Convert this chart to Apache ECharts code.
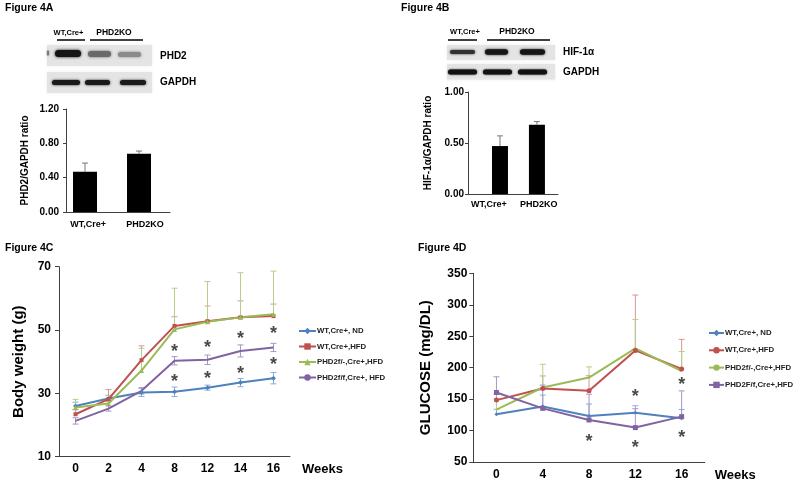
<!DOCTYPE html>
<html><head><meta charset="utf-8">
<script src="https://cdn.jsdelivr.net/npm/echarts@6/dist/echarts.min.js"></script>
<style>html,body{margin:0;padding:0;background:#fff}#c{width:795px;height:482px}</style>
</head><body><div id="c"></div>
<script>
// ---------- data ----------
const barCats = ['WT,Cre+', 'PHD2KO'];
const phd2Ratio = [0.47, 0.68];
const phd2Err = [0.10, 0.03];
const hifRatio = [0.47, 0.68];
const hifErr = [0.10, 0.03];

const weeksC = ['0', '2', '4', '8', '12', '14', '16'];
const namesC = ['WT,Cre+, ND', 'WT,Cre+,HFD', 'PHD2f/-,Cre+,HFD', 'PHD2f/f,Cre+, HFD'];
const bwND   = [26.0, 28.4, 30.3, 30.5, 31.8, 33.4, 34.8];
const bwHFD  = [23.4, 28.2, 40.5, 51.3, 52.8, 54.0, 54.4];
const bwFm   = [25.5, 26.8, 37.2, 50.2, 52.6, 54.0, 55.0];
const bwFf   = [21.3, 25.2, 30.8, 40.3, 40.6, 43.4, 44.5];
const bwNDErr  = [1.2, 1.0, 1.3, 1.5, 0.8, 1.3, 1.8];
const bwHFDErr = [1.5, 3.0, 4.5, 2.9, 4.8, 5.2, 3.8];
const bwFmErr  = [2.6, 2.5, 7.0, 13.0, 12.7, 14.1, 13.6];
const bwFfErr  = [1.0, 0.8, 1.0, 1.3, 1.5, 1.9, 1.3];
const starC = [['8', 44.5], ['12', 46.0], ['14', 48.7], ['16', 50.2], ['8', 35.3], ['12', 36.1], ['14', 37.6], ['16', 40.5]];

const weeksD = ['0', '4', '8', '12', '16'];
const namesD = ['WT,Cre+, ND', 'WT,Cre+,HFD', 'PHD2f/-,Cre+,HFD', 'PHD2F/f,Cre+,HFD'];
const gluND  = [125.8, 138.4, 123.2, 128.4, 119.5];
const gluHFD = [148.4, 166.8, 163.2, 227.4, 197.9];
const gluFm  = [133.2, 168.4, 184.2, 230.5, 194.7];
const gluFf  = [160.5, 135.3, 116.8, 104.7, 122.1];
const gluNDErr  = [8, 18, 19, 11, 14];
const gluHFDErr = [10, 20, 24, 88, 47];
const gluFmErr  = [17, 37, 17, 46, 31];
const gluFfErr  = [25, 37, 41, 30, 41];
const starD = [['12', 160.5], ['16', 180.4], ['8', 89.5], ['12', 80.5], ['16', 95.8]];

// ---------- style ----------
const FONT = 'Liberation Sans, Arial, sans-serif';
const AX = '#404040';
const COL = ['#4F81BD', '#C0504D', '#9BBB59', '#8064A2'];
const ECOL = ['#8EAADB', '#D99694', '#B7CE8A', '#A896C4'];

function errRender(both, color) {
  return function (params, api) {
    const x = api.value(0), y = api.value(1), e = api.value(2);
    const top = api.coord([x, y + e]);
    const mid = api.coord([x, y]);
    const bot = both ? api.coord([x, y - e]) : mid;
    const w = 3;
    const st = { stroke: color, lineWidth: 1 };
    const ch = [
      { type: 'line', shape: { x1: top[0], y1: top[1], x2: bot[0], y2: bot[1] }, style: st },
      { type: 'line', shape: { x1: top[0] - w, y1: top[1], x2: top[0] + w, y2: top[1] }, style: st }
    ];
    if (both) ch.push({ type: 'line', shape: { x1: bot[0] - w, y1: bot[1], x2: bot[0] + w, y2: bot[1] }, style: st });
    return { type: 'group', children: ch };
  };
}
function errSeries(xi, cats, vals, errs, both, color) {
  return {
    type: 'custom', xAxisIndex: xi, yAxisIndex: xi, z: 1, silent: true,
    renderItem: errRender(both, color),
    data: vals.map((v, i) => [cats[i], v, errs[i]])
  };
}
function lineSeries(xi, name, vals, color, symbol, size) {
  return {
    type: 'line', name: name, xAxisIndex: xi, yAxisIndex: xi, z: 3, data: vals,
    symbol: symbol, symbolSize: size, showSymbol: symbol !== 'none',
    lineStyle: { color: color, width: 2 }, itemStyle: { color: color }, animation: false
  };
}
function starSeries(xi, pts) {
  return {
    type: 'scatter', xAxisIndex: xi, yAxisIndex: xi, z: 4, silent: true,
    symbolSize: 1, itemStyle: { color: 'rgba(0,0,0,0)' }, data: pts,
    label: { show: true, position: 'inside', formatter: '*', fontSize: 18, fontWeight: 'bold', color: '#1a1a1a', fontFamily: FONT, offset: [0, 5] }
  };
}

// bars on value x axes: bar centres at 1 and 2
const barDataA = phd2Ratio.map((v, i) => [i + 1, v]);
const barDataB = hifRatio.map((v, i) => [i + 1, v]);
const barErrA = phd2Ratio.map((v, i) => [i + 1, v, phd2Err[i]]);
const barErrB = hifRatio.map((v, i) => [i + 1, v, hifErr[i]]);

const axisLineStyle = { show: true, lineStyle: { color: AX, width: 1 } };
const boldLbl = (sz, margin) => ({ fontFamily: FONT, fontWeight: 'bold', fontSize: sz, color: '#000', margin: margin });

// ---------- blots (decoration) ----------
function band(x1, x2, yc, h, color, blur) {
  return { type: 'rect', shape: { x: x1, y: yc - h / 2, width: x2 - x1, height: h, r: h / 2 },
    style: { fill: color, shadowBlur: blur, shadowColor: color } };
}
function bg(x1, x2, y1, y2) {
  return { type: 'rect', shape: { x: x1, y: y1, width: x2 - x1, height: y2 - y1 },
    style: { fill: '#e4e4e4', shadowBlur: 3, shadowColor: '#ececec' } };
}
function txt(x, y, s, sz, align) {
  return { type: 'text', x: x, y: y, style: { text: s, fontFamily: FONT, fontWeight: 'bold', fontSize: sz, fill: '#000', align: align || 'left', verticalAlign: 'middle' } };
}
function uline(x1, x2, y) {
  return { type: 'line', shape: { x1: x1, y1: y, x2: x2, y2: y }, style: { stroke: '#000', lineWidth: 1.5 } };
}
const graphics = [
  // Figure 4A blot
  bg(47, 152, 45, 66), bg(47, 152, 72, 93),
  band(55, 81, 53.5, 7, '#151515', 3), band(88, 111, 54, 6, '#6a6a6a', 3), band(118, 141, 54.5, 5, '#8a8a8a', 3),
  band(47, 49, 53, 5, '#777', 2),
  band(52, 80, 82.5, 5, '#1a1a1a', 2.5), band(85, 110, 82.5, 5, '#1a1a1a', 2.5), band(120, 146, 82.5, 5, '#1a1a1a', 2.5),
  uline(57, 85, 40), uline(90, 143, 40),
  txt(68.5, 32.5, 'WT,Cre+', 7.5, 'center'), txt(114, 32.5, 'PHD2KO', 8.5, 'center'),
  txt(160, 56, 'PHD2', 10), txt(160, 82.5, 'GAPDH', 10),
  // Figure 4B blot
  bg(447, 555, 45, 60), bg(447, 555, 64, 79.5),
  band(450, 475, 52, 4, '#303030', 2.5), band(485, 508, 52, 5.5, '#151515', 2.5), band(520, 545, 52, 5.5, '#151515', 2.5),
  band(448, 477, 72, 5, '#111', 2), band(483, 512, 72, 5, '#111', 2), band(518, 547, 72, 5, '#111', 2),
  uline(448, 477, 40), uline(487, 550, 40),
  txt(465, 32, 'WT,Cre+', 7.5, 'center'), txt(517, 32, 'PHD2KO', 8.5, 'center'),
  txt(563, 52.5, 'HIF-1α', 10), txt(563, 72, 'GAPDH', 10),
  // panel titles
  txt(5, 8, 'Figure 4A', 10.5), txt(401, 8, 'Figure 4B', 10.5),
  txt(5, 248, 'Figure 4C', 10.5), txt(418, 248, 'Figure 4D', 10.5)
];

const legendText = { fontFamily: FONT, fontSize: 7.8, fontWeight: 'bold', color: '#222', padding: [0, 0, 0, -4] };

const option = {
  animation: false,
  backgroundColor: '#fff',
  textStyle: { fontFamily: FONT },
  graphic: graphics,
  legend: [
    { data: namesC, orient: 'vertical', left: 293, top: 322, itemWidth: 17, itemHeight: 8, itemGap: 7.5,
      textStyle: legendText },
    { data: namesD.map(n => n + ' '), orient: 'vertical', left: 703, top: 324, itemWidth: 15, itemHeight: 8, itemGap: 9.3,
      textStyle: legendText }
  ],
  grid: [
    { left: 66, top: 109, width: 104, height: 103 },
    { left: 468, top: 92, width: 90, height: 102 },
    { left: 59, top: 266.7, width: 231, height: 190 },
    { left: 473.3, top: 273.3, width: 231.5, height: 190 }
  ],
  xAxis: [
    { gridIndex: 0, type: 'value', min: 0.648, max: 2.574, splitLine: { show: false }, axisLine: axisLineStyle,
      axisTick: { show: false },
      axisLabel: Object.assign(boldLbl(9, 8), { customValues: [1.056, 2.11], formatter: v => barCats[Math.round(v) - 1] || '' }) },
    { gridIndex: 1, type: 'value', min: 0.135, max: 2.57, splitLine: { show: false }, axisLine: axisLineStyle,
      axisTick: { show: false },
      axisLabel: Object.assign(boldLbl(9, 6), { customValues: [0.70, 2.05], formatter: v => barCats[Math.round(v) - 1] || '' }) },
    { gridIndex: 2, type: 'category', data: weeksC, axisLine: axisLineStyle, axisTick: { show: false },
      axisLabel: boldLbl(12, 6),
      name: 'Weeks', nameLocation: 'end', nameGap: 12,
      nameTextStyle: { fontFamily: FONT, fontWeight: 'bold', fontSize: 13, color: '#000', verticalAlign: 'top', padding: [6, 0, 0, 0] } },
    { gridIndex: 3, type: 'category', data: weeksD, axisLine: axisLineStyle, axisTick: { show: false },
      axisLabel: boldLbl(12, 7),
      name: 'Weeks', nameLocation: 'end', nameGap: 10,
      nameTextStyle: { fontFamily: FONT, fontWeight: 'bold', fontSize: 13, color: '#000', verticalAlign: 'top', padding: [7, 0, 0, 0] } }
  ],
  yAxis: [
    { gridIndex: 0, type: 'value', min: 0, max: 1.2, interval: 0.4, splitLine: { show: false }, axisLine: axisLineStyle,
      axisTick: { show: true, length: 3, lineStyle: { color: AX } },
      axisLabel: Object.assign(boldLbl(10, 7), { formatter: v => v.toFixed(2) }),
      name: 'PHD2/GAPDH ratio', nameLocation: 'middle', nameGap: 36,
      nameTextStyle: { fontFamily: FONT, fontWeight: 'bold', fontSize: 10, color: '#000' } },
    { gridIndex: 1, type: 'value', min: 0, max: 1, interval: 0.5, splitLine: { show: false }, axisLine: axisLineStyle,
      axisTick: { show: true, length: 3, lineStyle: { color: AX } },
      axisLabel: Object.assign(boldLbl(10, 4), { formatter: v => v.toFixed(2) }),
      name: 'HIF-1α/GAPDH ratio', nameLocation: 'middle', nameGap: 35,
      nameTextStyle: { fontFamily: FONT, fontWeight: 'bold', fontSize: 10, color: '#000' } },
    { gridIndex: 2, type: 'value', min: 10, max: 70, interval: 20, splitLine: { show: false }, axisLine: axisLineStyle,
      axisTick: { show: true, length: 4, lineStyle: { color: AX } },
      axisLabel: boldLbl(12, 8),
      name: 'Body weight (g)', nameLocation: 'middle', nameGap: 33,
      nameTextStyle: { fontFamily: FONT, fontWeight: 'bold', fontSize: 15, color: '#000' } },
    { gridIndex: 3, type: 'value', min: 50, max: 350, interval: 50, splitLine: { show: false }, axisLine: axisLineStyle,
      axisTick: { show: true, length: 4, lineStyle: { color: AX } },
      axisLabel: boldLbl(12, 6),
      name: 'GLUCOSE (mg/DL)', nameLocation: 'middle', nameGap: 40,
      nameTextStyle: { fontFamily: FONT, fontWeight: 'bold', fontSize: 15, color: '#000' } }
  ],
  series: [
    // A
    { type: 'bar', xAxisIndex: 0, yAxisIndex: 0, data: barDataA, barWidth: 24, itemStyle: { color: '#000' }, z: 2 },
    { type: 'custom', xAxisIndex: 0, yAxisIndex: 0, z: 1, renderItem: errRender(false, '#777'), data: barErrA },
    // B
    { type: 'bar', xAxisIndex: 1, yAxisIndex: 1, data: barDataB, barWidth: 16, itemStyle: { color: '#000' }, z: 2 },
    { type: 'custom', xAxisIndex: 1, yAxisIndex: 1, z: 1, renderItem: errRender(false, '#777'), data: barErrB },
    // C errors
    errSeries(2, weeksC, bwND, bwNDErr, true, ECOL[0]),
    errSeries(2, weeksC, bwHFD, bwHFDErr, false, ECOL[1]),
    errSeries(2, weeksC, bwFm, bwFmErr, false, ECOL[2]),
    errSeries(2, weeksC, bwFf, bwFfErr, true, ECOL[3]),
    // C lines
    lineSeries(2, namesC[0], bwND, COL[0], 'diamond', 5),
    lineSeries(2, namesC[1], bwHFD, COL[1], 'rect', 4),
    lineSeries(2, namesC[2], bwFm, COL[2], 'triangle', 5),
    lineSeries(2, namesC[3], bwFf, COL[3], 'none', 0),
    starSeries(2, starC),
    // D errors
    errSeries(3, weeksD, gluND, gluNDErr, false, ECOL[0]),
    errSeries(3, weeksD, gluHFD, gluHFDErr, false, ECOL[1]),
    errSeries(3, weeksD, gluFm, gluFmErr, false, ECOL[2]),
    errSeries(3, weeksD, gluFf, gluFfErr, false, ECOL[3]),
    // D lines
    lineSeries(3, namesD[0] + ' ', gluND, COL[0], 'diamond', 4),
    lineSeries(3, namesD[1] + ' ', gluHFD, COL[1], 'circle', 5),
    lineSeries(3, namesD[2] + ' ', gluFm, COL[2], 'none', 0),
    lineSeries(3, namesD[3] + ' ', gluFf, COL[3], 'rect', 5),
    starSeries(3, starD)
  ]
};
const chart = echarts.init(document.getElementById('c'), null, { renderer: 'canvas' });
chart.setOption(option);
</script>
</body></html>
